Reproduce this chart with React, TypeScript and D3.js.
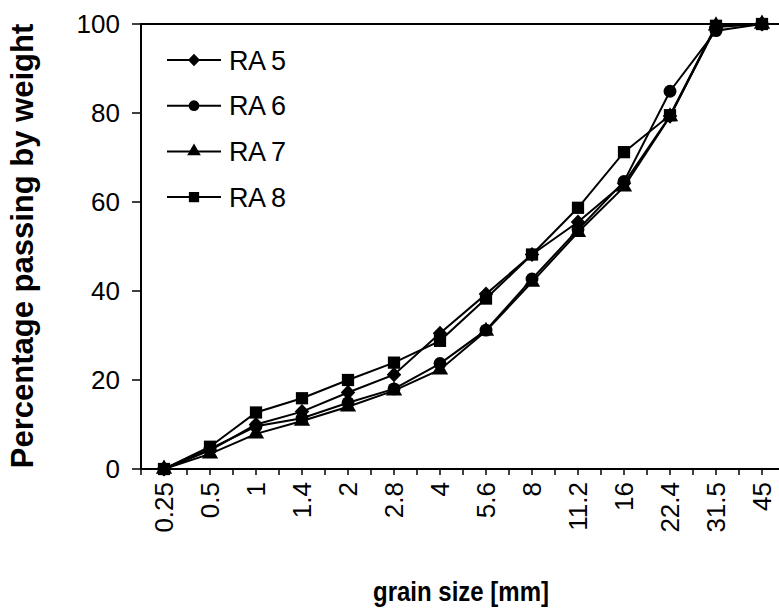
import React, { useEffect, useRef } from 'react';
import * as d3 from 'd3';

const grainSizes = ['0.25', '0.5', '1', '1.4', '2', '2.8', '4', '5.6', '8', '11.2', '16', '22.4', '31.5', '45'];
const ra5 = [0, 4.2, 10, 12.9, 17.2, 21.2, 30.5, 39.3, 48.2, 55.5, 64.2, 79.3, 99.3, 100];
const ra6 = [0, 4.5, 9.6, 11.4, 14.9, 18, 23.7, 31.2, 42.7, 53.8, 64.6, 84.9, 98.5, 100];
const ra7 = [0, 3.4, 7.9, 10.8, 14, 17.6, 22.3, 31, 42, 53.2, 63.4, 79.2, 99.6, 100];
const ra8 = [0, 5, 12.7, 15.9, 20, 23.9, 28.8, 38.3, 48.2, 58.7, 71.2, 79.5, 99.6, 100];
const yTicks = [0, 20, 40, 60, 80, 100];

// wide Excel-style diamond
const diamond: d3.SymbolType = {
  draw(ctx, size) {
    const r = Math.sqrt(size / 2);
    ctx.moveTo(0, -r * 1.05);
    ctx.lineTo(r, 0);
    ctx.lineTo(0, r * 1.05);
    ctx.lineTo(-r, 0);
    ctx.closePath();
  },
};

const seriesList = [
  { name: 'RA 5', values: ra5, symbol: diamond, size: 105 },
  { name: 'RA 6', values: ra6, symbol: d3.symbolCircle, size: 130 },
  { name: 'RA 7', values: ra7, symbol: d3.symbolTriangle, size: 115 },
  { name: 'RA 8', values: ra8, symbol: d3.symbolSquare, size: 150 },
];

const W = 779;
const H = 612;
const left = 141;
const right = 785;
const top = 24;
const bottom = 469;
const font = 'Liberation Sans, Arial, sans-serif';

export default function App() {
  const svgRef = useRef<SVGSVGElement>(null);

  useEffect(() => {
    if (!svgRef.current) return;
    const svg = d3.select(svgRef.current);
    svg.selectAll('*').remove();

    const x = d3.scalePoint<string>().domain(grainSizes).range([left, right]).padding(0.5);
    const y = d3.scaleLinear().domain([0, 100]).range([bottom, top]);
    const step = x.step();

    // plot frame
    svg.append('rect')
      .attr('x', left).attr('y', top)
      .attr('width', right - left).attr('height', bottom - top)
      .attr('fill', 'none').attr('stroke', '#000').attr('stroke-width', 2);

    // y ticks
    const yg = svg.append('g');
    yg.selectAll('line').data(yTicks).enter().append('line')
      .attr('x1', left - 9).attr('x2', left)
      .attr('y1', d => y(d)).attr('y2', d => y(d))
      .attr('stroke', '#000').attr('stroke-width', 1.5);
    yg.selectAll('text').data(yTicks).enter().append('text')
      .attr('x', left - 21).attr('y', d => y(d))
      .attr('dy', '0.36em')
      .attr('text-anchor', 'end')
      .attr('font-family', font)
      .attr('font-size', 26)
      .text(d => d);

    // x ticks at category centres and boundaries
    const xTickPos: number[] = [];
    grainSizes.forEach(g => {
      const c = x(g)!;
      xTickPos.push(c - step / 2, c);
    });
    xTickPos.push(x(grainSizes[grainSizes.length - 1])! + step / 2);
    svg.append('g').selectAll('line').data(xTickPos).enter().append('line')
      .attr('x1', d => d).attr('x2', d => d)
      .attr('y1', bottom).attr('y2', bottom + 6)
      .attr('stroke', '#000').attr('stroke-width', 1.5);

    svg.append('g').selectAll('text').data(grainSizes).enter().append('text')
      .attr('transform', d => `translate(${x(d)! + 9},${bottom + 13}) rotate(-90)`)
      .attr('text-anchor', 'end')
      .attr('font-family', font)
      .attr('font-size', 26)
      .text(d => d);

    // titles
    svg.append('text')
      .attr('transform', 'translate(461,601) scale(1,1.15)')
      .attr('text-anchor', 'middle')
      .attr('font-family', font)
      .attr('font-weight', 'bold')
      .attr('font-size', 24)
      .text('grain size [mm]');
    svg.append('text')
      .attr('transform', `translate(33,246) rotate(-90)`)
      .attr('text-anchor', 'middle')
      .attr('font-family', font)
      .attr('font-weight', 'bold')
      .attr('font-size', 31)
      .text('Percentage passing by weight');

    const line = d3.line<number>()
      .x((_, i) => x(grainSizes[i])!)
      .y(d => y(d));

    seriesList.forEach(s => {
      svg.append('path')
        .attr('d', line(s.values))
        .attr('fill', 'none')
        .attr('stroke', '#000')
        .attr('stroke-width', 2);
    });
    seriesList.forEach(s => {
      const sym = d3.symbol().type(s.symbol).size(s.size);
      svg.append('g').selectAll('path').data(s.values).enter().append('path')
        .attr('transform', (d, i) => `translate(${x(grainSizes[i])},${y(d)})`)
        .attr('d', sym())
        .attr('fill', '#000');
    });

    // legend
    const lg = svg.append('g');
    seriesList.forEach((s, i) => {
      const ly = 60 + i * 45.7;
      lg.append('line')
        .attr('x1', 167).attr('x2', 221)
        .attr('y1', ly).attr('y2', ly)
        .attr('stroke', '#000').attr('stroke-width', 2);
      lg.append('path')
        .attr('transform', `translate(194,${ly})`)
        .attr('d', d3.symbol().type(s.symbol).size(s.size * 0.7)())
        .attr('fill', '#000');
      lg.append('text')
        .attr('x', 229).attr('y', ly)
        .attr('dy', '0.36em')
        .attr('font-family', font)
        .attr('font-size', 27)
        .attr('letter-spacing', -0.5)
        .text(s.name);
    });
  }, []);

  return (
    <svg
      ref={svgRef}
      width={W}
      height={H}
      style={{ position: 'absolute', left: 0, top: 0, background: '#fff' }}
    />
  );
}
